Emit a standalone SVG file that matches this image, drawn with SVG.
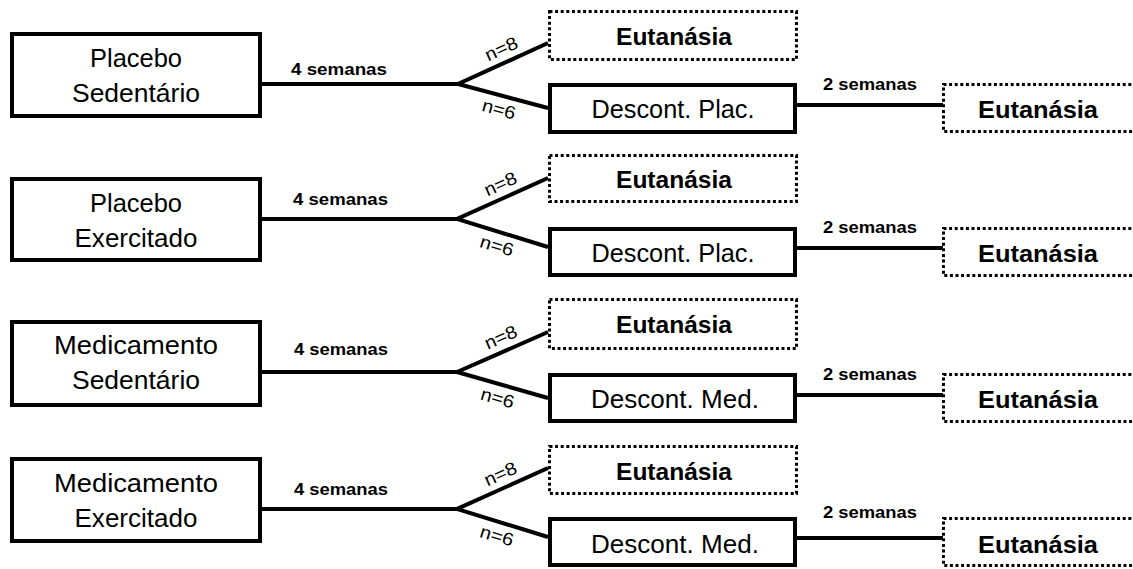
<svg xmlns="http://www.w3.org/2000/svg" width="1133" height="569" viewBox="0 0 1133 569">
<style>
.bg{fill:#fff}
.box{fill:#fff;stroke:#000;stroke-width:4}
.dbox{fill:#fff;stroke:#000;stroke-width:3;stroke-dasharray:3 2.6}
.ln{fill:none;stroke:#000;stroke-width:4;stroke-linejoin:miter}
.t{font-family:"Liberation Sans",Arial,sans-serif;font-size:25px;fill:#000;text-anchor:middle}
.tb{font-family:"Liberation Sans",Arial,sans-serif;font-size:24px;font-weight:bold;fill:#000;text-anchor:middle}
.s{font-family:"Liberation Sans",Arial,sans-serif;font-size:17px;font-weight:bold;fill:#000}
.n{font-family:"Liberation Sans",Arial,sans-serif;font-size:18px;fill:#000;text-anchor:middle}
</style>
<rect class="bg" x="0" y="0" width="1133" height="569"/>

<g id="connectors">
  <polyline class="ln" points="261,84 458,84"/>
  <polyline class="ln" points="548,43 458,84 548,108"/>
  <line class="ln" x1="797" y1="105" x2="943" y2="105"/>
  <polyline class="ln" points="261,219 457,219"/>
  <polyline class="ln" points="548,178 457,219 548,247"/>
  <line class="ln" x1="797" y1="248" x2="943" y2="248"/>
  <polyline class="ln" points="261,372 457,372"/>
  <polyline class="ln" points="548,332 457,372 548,398"/>
  <line class="ln" x1="797" y1="395" x2="943" y2="395"/>
  <polyline class="ln" points="261,509 457,509"/>
  <polyline class="ln" points="548,468 457,509 548,537"/>
  <line class="ln" x1="797" y1="538" x2="943" y2="538"/>

  <text class="s" x="291" y="75" textLength="96" lengthAdjust="spacingAndGlyphs">4 semanas</text>
  <text class="s" x="293" y="205" textLength="95" lengthAdjust="spacingAndGlyphs">4 semanas</text>
  <text class="s" x="294" y="355" textLength="94" lengthAdjust="spacingAndGlyphs">4 semanas</text>
  <text class="s" x="294" y="495" textLength="94" lengthAdjust="spacingAndGlyphs">4 semanas</text>

  <text class="s" x="823" y="90" textLength="94" lengthAdjust="spacingAndGlyphs">2 semanas</text>
  <text class="s" x="823" y="233" textLength="94" lengthAdjust="spacingAndGlyphs">2 semanas</text>
  <text class="s" x="823" y="380" textLength="94" lengthAdjust="spacingAndGlyphs">2 semanas</text>
  <text class="s" x="823" y="518" textLength="94" lengthAdjust="spacingAndGlyphs">2 semanas</text>

  <g transform="translate(458,84) rotate(-24.5)"><text class="n" x="54" y="-8" textLength="34" lengthAdjust="spacingAndGlyphs">n=8</text></g>
  <g transform="translate(458,84) rotate(14.9)"><text class="n" x="46" y="20" textLength="34" lengthAdjust="spacingAndGlyphs">n=6</text></g>
  <g transform="translate(457,219) rotate(-24.3)"><text class="n" x="54" y="-8" textLength="34" lengthAdjust="spacingAndGlyphs">n=8</text></g>
  <g transform="translate(457,219) rotate(17.1)"><text class="n" x="46" y="20" textLength="34" lengthAdjust="spacingAndGlyphs">n=6</text></g>
  <g transform="translate(457,372) rotate(-23.7)"><text class="n" x="54" y="-8" textLength="34" lengthAdjust="spacingAndGlyphs">n=8</text></g>
  <g transform="translate(457,372) rotate(15.9)"><text class="n" x="46" y="20" textLength="34" lengthAdjust="spacingAndGlyphs">n=6</text></g>
  <g transform="translate(457,509) rotate(-24.3)"><text class="n" x="54" y="-8" textLength="34" lengthAdjust="spacingAndGlyphs">n=8</text></g>
  <g transform="translate(457,509) rotate(17.1)"><text class="n" x="46" y="20" textLength="34" lengthAdjust="spacingAndGlyphs">n=6</text></g>
</g>

<g id="placebo-sedentario">
  <rect class="box" x="12" y="34" width="248" height="82"/>
  <text class="t" x="136" y="67" textLength="92" lengthAdjust="spacingAndGlyphs">Placebo</text>
  <text class="t" x="136" y="102" textLength="128" lengthAdjust="spacingAndGlyphs">Sedentário</text>
</g>
<g id="eutanasia-1a">
  <rect class="dbox" x="549.5" y="11.5" width="247" height="48"/>
  <text class="tb" x="674" y="45" textLength="116" lengthAdjust="spacingAndGlyphs">Eutanásia</text>
</g>
<g id="descont-plac-1">
  <rect class="box" x="550" y="85" width="245" height="47"/>
  <text class="t" x="673" y="118" textLength="163" lengthAdjust="spacingAndGlyphs">Descont. Plac.</text>
</g>
<g id="eutanasia-1b">
  <rect class="dbox" x="943.5" y="84.5" width="250" height="47"/>
  <text class="tb" x="1038" y="118" textLength="120" lengthAdjust="spacingAndGlyphs">Eutanásia</text>
</g>

<g id="placebo-exercitado">
  <rect class="box" x="12" y="179" width="248" height="81"/>
  <text class="t" x="136" y="212" textLength="92" lengthAdjust="spacingAndGlyphs">Placebo</text>
  <text class="t" x="136" y="247" textLength="123" lengthAdjust="spacingAndGlyphs">Exercitado</text>
</g>
<g id="eutanasia-2a">
  <rect class="dbox" x="549.5" y="155.5" width="247" height="46"/>
  <text class="tb" x="674" y="188" textLength="116" lengthAdjust="spacingAndGlyphs">Eutanásia</text>
</g>
<g id="descont-plac-2">
  <rect class="box" x="550" y="229" width="245" height="46"/>
  <text class="t" x="673" y="262" textLength="163" lengthAdjust="spacingAndGlyphs">Descont. Plac.</text>
</g>
<g id="eutanasia-2b">
  <rect class="dbox" x="943.5" y="228.5" width="250" height="47"/>
  <text class="tb" x="1038" y="262" textLength="120" lengthAdjust="spacingAndGlyphs">Eutanásia</text>
</g>

<g id="medicamento-sedentario">
  <rect class="box" x="12" y="322" width="248" height="83"/>
  <text class="t" x="136" y="354" textLength="164" lengthAdjust="spacingAndGlyphs">Medicamento</text>
  <text class="t" x="136" y="389" textLength="128" lengthAdjust="spacingAndGlyphs">Sedentário</text>
</g>
<g id="eutanasia-3a">
  <rect class="dbox" x="549.5" y="299.5" width="247" height="49"/>
  <text class="tb" x="674" y="333" textLength="116" lengthAdjust="spacingAndGlyphs">Eutanásia</text>
</g>
<g id="descont-med-3">
  <rect class="box" x="550" y="375" width="245" height="46"/>
  <text class="t" x="675" y="408" textLength="168" lengthAdjust="spacingAndGlyphs">Descont. Med.</text>
</g>
<g id="eutanasia-3b">
  <rect class="dbox" x="943.5" y="374.5" width="250" height="47"/>
  <text class="tb" x="1038" y="408" textLength="120" lengthAdjust="spacingAndGlyphs">Eutanásia</text>
</g>

<g id="medicamento-exercitado">
  <rect class="box" x="12" y="459" width="248" height="82"/>
  <text class="t" x="136" y="492" textLength="164" lengthAdjust="spacingAndGlyphs">Medicamento</text>
  <text class="t" x="136" y="527" textLength="123" lengthAdjust="spacingAndGlyphs">Exercitado</text>
</g>
<g id="eutanasia-4a">
  <rect class="dbox" x="549.5" y="446.5" width="247" height="47"/>
  <text class="tb" x="674" y="480" textLength="116" lengthAdjust="spacingAndGlyphs">Eutanásia</text>
</g>
<g id="descont-med-4">
  <rect class="box" x="550" y="519" width="245" height="46"/>
  <text class="t" x="675" y="553" textLength="168" lengthAdjust="spacingAndGlyphs">Descont. Med.</text>
</g>
<g id="eutanasia-4b">
  <rect class="dbox" x="943.5" y="518.5" width="250" height="47"/>
  <text class="tb" x="1038" y="553" textLength="120" lengthAdjust="spacingAndGlyphs">Eutanásia</text>
</g>
</svg>
